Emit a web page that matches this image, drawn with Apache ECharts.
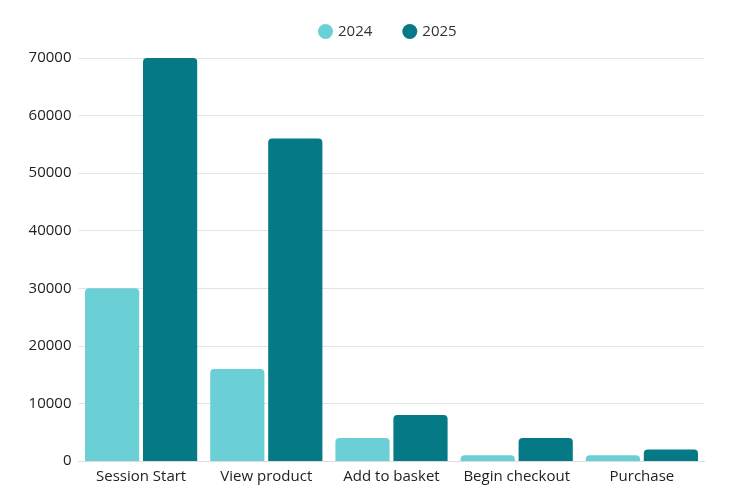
<!DOCTYPE html>
<html><head><meta charset="utf-8">
<script src="https://cdn.jsdelivr.net/npm/echarts@6/dist/echarts.min.js"></script>
<style>html,body{margin:0;padding:0;background:#fff}#c{width:730px;height:504px}</style>
</head><body><div id="c"></div>
<script>
const categories = ["Session Start", "View product", "Add to basket", "Begin checkout", "Purchase"];
const values2024 = [30000, 16000, 4000, 1000, 1000];
const values2025 = [70000, 56000, 8000, 4000, 2000];
const chart = echarts.init(document.getElementById('c'));
const font = "'Open Sans', sans-serif";
chart.setOption({
  animation: false,
  textStyle: { fontFamily: font },
  legend: {
    top: 19, left: 313, icon: 'circle', itemWidth: 15, itemHeight: 15, itemGap: 30,
    textStyle: { fontFamily: font, fontSize: 15, color: '#333' },
    data: ['2024', '2025']
  },
  grid: { left: 78.5, right: 25.5, top: 58, bottom: 43 },
  xAxis: {
    type: 'category', data: categories,
    axisLine: { lineStyle: { color: '#ddd' } },
    axisTick: { show: false },
    axisLabel: { fontFamily: font, fontSize: 15, color: '#222', margin: 8, interval: 0 }
  },
  yAxis: {
    type: 'value', min: 0, max: 70000, interval: 10000,
    axisLine: { show: false }, axisTick: { show: false },
    axisLabel: { fontFamily: font, fontSize: 15, color: '#222', margin: 7, formatter: v => String(v) },
    splitLine: { lineStyle: { color: '#e3e3e3' } }
  },
  series: [
    { name: '2024', type: 'bar', data: values2024, barGap: '7%', barCategoryGap: '10.4%',
      itemStyle: { color: '#6bd0d6', borderRadius: [4, 4, 0, 0] } },
    { name: '2025', type: 'bar', data: values2025,
      itemStyle: { color: '#057985', borderRadius: [4, 4, 0, 0] } }
  ]
});
</script></body></html>
